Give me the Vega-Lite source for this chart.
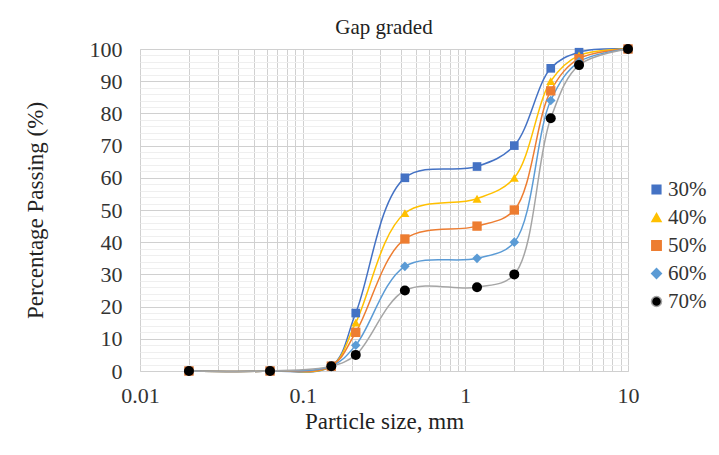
{
  "$schema": "https://vega.github.io/schema/vega-lite/v6.json",
  "width": 488,
  "height": 322,
  "autosize": "none",
  "padding": {"left": 140, "top": 49, "right": 91, "bottom": 84},
  "background": "white",
  "title": {"text": "Gap graded", "font": "Liberation Serif", "fontSize": 21, "fontWeight": "normal", "color": "#222222", "offset": 0},
  "config": {"view": {"stroke": "#d9d9d9"}, "font": "Liberation Serif", "legend": {"labelFont": "Liberation Serif"}},
  "data": {"values": [
    {"series": "30%", "size": 0.02, "passing": 0},
    {"series": "30%", "size": 0.063, "passing": 0},
    {"series": "30%", "size": 0.15, "passing": 1.5},
    {"series": "30%", "size": 0.212, "passing": 18},
    {"series": "30%", "size": 0.425, "passing": 60},
    {"series": "30%", "size": 1.18, "passing": 63.5},
    {"series": "30%", "size": 2, "passing": 70},
    {"series": "30%", "size": 3.35, "passing": 94},
    {"series": "30%", "size": 5, "passing": 99},
    {"series": "30%", "size": 10, "passing": 100},
    {"series": "40%", "size": 0.02, "passing": 0},
    {"series": "40%", "size": 0.063, "passing": 0},
    {"series": "40%", "size": 0.15, "passing": 1.5},
    {"series": "40%", "size": 0.212, "passing": 15},
    {"series": "40%", "size": 0.425, "passing": 49},
    {"series": "40%", "size": 1.18, "passing": 53.5},
    {"series": "40%", "size": 2, "passing": 60},
    {"series": "40%", "size": 3.35, "passing": 90},
    {"series": "40%", "size": 5, "passing": 98},
    {"series": "40%", "size": 10, "passing": 100},
    {"series": "50%", "size": 0.02, "passing": 0},
    {"series": "50%", "size": 0.063, "passing": 0},
    {"series": "50%", "size": 0.15, "passing": 1.5},
    {"series": "50%", "size": 0.212, "passing": 12},
    {"series": "50%", "size": 0.425, "passing": 41},
    {"series": "50%", "size": 1.18, "passing": 45},
    {"series": "50%", "size": 2, "passing": 50},
    {"series": "50%", "size": 3.35, "passing": 87},
    {"series": "50%", "size": 5, "passing": 97},
    {"series": "50%", "size": 10, "passing": 100},
    {"series": "60%", "size": 0.02, "passing": 0},
    {"series": "60%", "size": 0.063, "passing": 0},
    {"series": "60%", "size": 0.15, "passing": 1.5},
    {"series": "60%", "size": 0.212, "passing": 8},
    {"series": "60%", "size": 0.425, "passing": 32.5},
    {"series": "60%", "size": 1.18, "passing": 35},
    {"series": "60%", "size": 2, "passing": 40},
    {"series": "60%", "size": 3.35, "passing": 84},
    {"series": "60%", "size": 5, "passing": 96},
    {"series": "60%", "size": 10, "passing": 100},
    {"series": "70%", "size": 0.02, "passing": 0},
    {"series": "70%", "size": 0.063, "passing": 0},
    {"series": "70%", "size": 0.15, "passing": 1.5},
    {"series": "70%", "size": 0.212, "passing": 5},
    {"series": "70%", "size": 0.425, "passing": 25},
    {"series": "70%", "size": 1.18, "passing": 26},
    {"series": "70%", "size": 2, "passing": 30},
    {"series": "70%", "size": 3.35, "passing": 78.5},
    {"series": "70%", "size": 5, "passing": 95},
    {"series": "70%", "size": 10, "passing": 100}
  ]},
  "encoding": {
    "x": {
      "field": "size", "type": "quantitative",
      "scale": {"type": "log", "domain": [0.01, 10], "nice": false},
      "axis": {
        "title": "Particle size, mm", "titleFontSize": 23, "titleFontWeight": "normal", "titleColor": "#222222", "titlePadding": 4,
        "values": [0.01,0.02,0.03,0.04,0.05,0.06,0.07,0.08,0.09,0.1,0.2,0.3,0.4,0.5,0.6,0.7,0.8,0.9,1,2,3,4,5,6,7,8,9,10],
        "format": "~g",
        "labelExpr": "abs(log(datum.value)/LN10 - round(log(datum.value)/LN10)) < 0.000001 ? datum.label : ''",
        "labelFontSize": 22, "labelColor": "#333333", "labelPadding": 14,
        "ticks": false, "domain": false,
        "grid": true, "gridColor": "#d0d0d0", "labelFlush": false, "labelOverlap": false
      }
    },
    "y": {
      "field": "passing", "type": "quantitative",
      "scale": {"domain": [0, 100], "nice": false},
      "axis": {
        "title": "Percentage Passing (%)", "titleFontSize": 23, "titleFontWeight": "normal", "titleColor": "#222222", "titlePadding": 42,
        "values": [0,2,4,6,8,10,12,14,16,18,20,22,24,26,28,30,32,34,36,38,40,42,44,46,48,50,52,54,56,58,60,62,64,66,68,70,72,74,76,78,80,82,84,86,88,90,92,94,96,98,100],
        "labelExpr": "datum.value % 10 === 0 ? datum.label : ''",
        "labelFontSize": 22, "labelColor": "#333333", "labelPadding": 18,
        "ticks": false, "domain": false,
        "grid": true,
        "gridColor": {"condition": {"test": "datum.value % 10 === 0", "value": "#d0d0d0"}, "value": "#efefef"},
        "labelOverlap": false
      }
    }
  },
  "layer": [
    {
      "mark": {"type": "line", "interpolate": "catmull-rom", "strokeWidth": 1.5},
      "encoding": {
        "stroke": {
          "field": "series", "type": "nominal",
          "scale": {"domain": ["30%","40%","50%","60%","70%"], "range": ["#4472C4","#FFC000","#ED7D31","#5B9BD5","#A5A5A5"]},
          "legend": {
            "title": null, "orient": "none", "legendX": 506, "legendY": 130,
            "symbolSize": 400, "symbolStrokeWidth": 1.5,
            "labelFont": "Liberation Serif", "labelFontSize": 22, "labelColor": "#333333", "rowPadding": 6, "padding": 0, "labelOffset": 1,
            "encode": {
              "labels": {
                "update": {
                  "font": {"value": "Liberation Serif"},
                  "fontSize": {"value": 21},
                  "fill": {"value": "#333333"}
                }
              },
              "symbols": {
                "update": {
                  "shape": {"signal": "datum.value === '30%' ? 'M-1,0H1M-0.45,-0.45H0.45V0.45H-0.45Z' : datum.value === '40%' ? 'M-1,0H1M0,-0.5L0.52,0.42L-0.52,0.42Z' : datum.value === '50%' ? 'M-1,0H1M-0.45,-0.45H0.45V0.45H-0.45Z' : datum.value === '60%' ? 'M-1,0H1M0,-0.45L0.45,0L0,0.45L-0.45,0Z' : 'M-1,0H1M-0.55,0A0.55,0.55 0 1,0 0.55,0A0.55,0.55 0 1,0 -0.55,0Z'"},
                  "fill": {"signal": "datum.value === '30%' ? '#4472C4' : datum.value === '40%' ? '#FFC000' : datum.value === '50%' ? '#ED7D31' : datum.value === '60%' ? '#5B9BD5' : '#000000'"},
                  "stroke": {"signal": "datum.value === '30%' ? '#4472C4' : datum.value === '40%' ? '#FFC000' : datum.value === '50%' ? '#ED7D31' : datum.value === '60%' ? '#5B9BD5' : '#A5A5A5'"},
                  "strokeWidth": {"value": 1.5},
                  "fillOpacity": {"value": 1},
                  "opacity": {"value": 1}
                }
              }
            }
          }
        }
      }
    },
    {
      "mark": {"type": "point", "filled": true, "opacity": 1},
      "encoding": {
        "fill": {
          "field": "series", "type": "nominal",
          "scale": {"domain": ["30%","40%","50%","60%","70%"], "range": ["#4472C4","#FFC000","#ED7D31","#5B9BD5","#000000"]},
          "legend": null
        },
        "shape": {
          "field": "series", "type": "nominal",
          "scale": {"domain": ["30%","40%","50%","60%","70%"], "range": ["square","triangle-up","square","diamond","circle"]},
          "legend": null
        },
        "size": {
          "field": "series", "type": "nominal",
          "scale": {"domain": ["30%","40%","50%","60%","70%"], "range": [75, 100, 85, 75, 120]},
          "legend": null
        }
      }
    }
  ]
}
